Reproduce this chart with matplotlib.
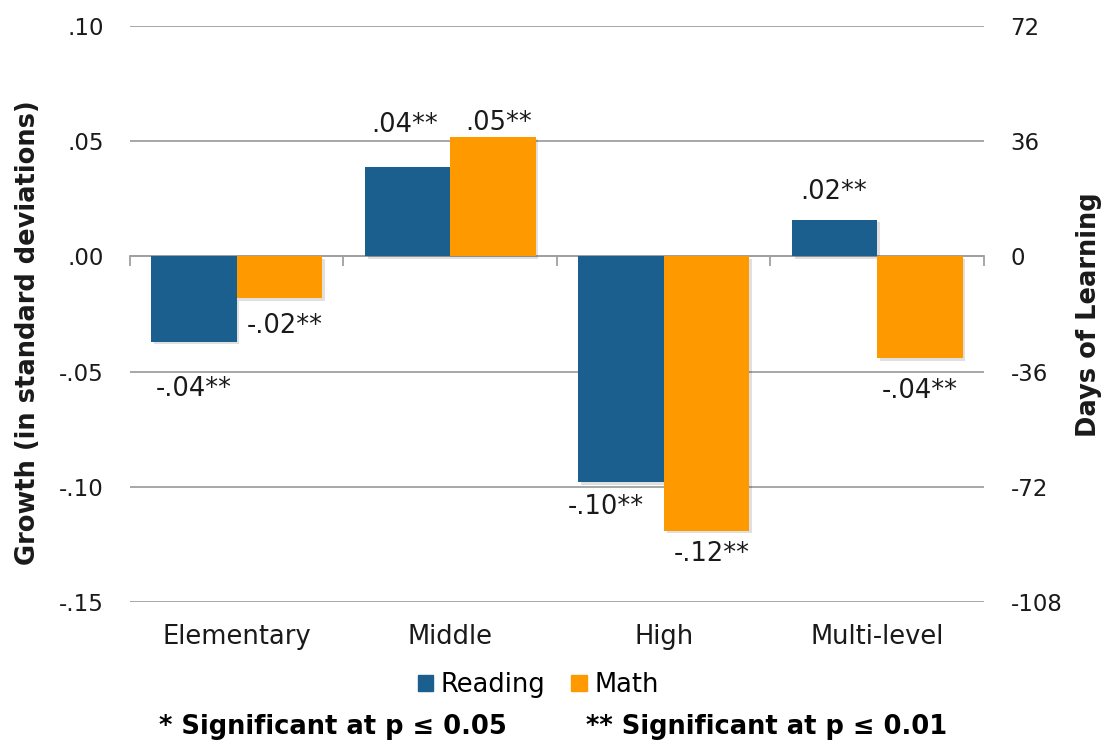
import matplotlib.pyplot as plt
import matplotlib.patheffects as pe
from matplotlib.patches import Patch

# data
categories = ["Elementary", "Middle", "High", "Multi-level"]
reading = [-0.037, 0.039, -0.098, 0.016]
math = [-0.018, 0.052, -0.119, -0.044]
reading_labels = ["-.04**", ".04**", "-.10**", ".02**"]
math_labels = ["-.02**", ".05**", "-.12**", "-.04**"]
left_ticks = [-0.15, -0.10, -0.05, 0.00, 0.05, 0.10]
left_ticklabels = ["-.15", "-.10", "-.05", ".00", ".05", ".10"]
right_ticks = [-108, -72, -36, 0, 36, 72]
right_ticklabels = ["-108", "-72", "-36", "0", "36", "72"]

# label offsets in points (dx, dy) from the bar end, as hand-placed in the original
reading_offsets = [(0, -34), (-2, 30), (-11, -18), (-1, 20)]
math_offsets = [(4, -20), (4, 10), (4, -17), (0, -24)]

BLUE = "#1B5F8F"
ORANGE = "#FF9900"
GRID = "#A0A0A0"
TEXT = "#1a1a1a"

plt.rcParams["font.family"] = "DejaVu Sans"

fig = plt.figure(figsize=(11.05, 7.45), dpi=100)
ax = fig.add_axes([0.1176, 0.192, 0.7729, 0.773])

x = list(range(len(categories)))
w = 0.4
shadow = [pe.SimplePatchShadow(offset=(2, -2), alpha=0.12, shadow_rgbFace="k"), pe.Normal()]
b1 = ax.bar([i - w / 2 for i in x], reading, width=w, color=BLUE, zorder=3)
b2 = ax.bar([i + w / 2 for i in x], math, width=w, color=ORANGE, zorder=3)
for bar in list(b1) + list(b2):
    bar.set_path_effects(shadow)

for bars, labels, offs in [(b1, reading_labels, reading_offsets), (b2, math_labels, math_offsets)]:
    for bar, lab, (dx, dy) in zip(bars, labels, offs):
        h = bar.get_height()
        ax.annotate(lab, (bar.get_x() + bar.get_width() / 2, h),
                    xytext=(dx, dy), textcoords="offset points",
                    ha="center", va="center", fontsize=18.5, color=TEXT)

ax.set_xlim(-0.5, len(categories) - 0.5)
ax.set_ylim(-0.15, 0.10)
ax.set_yticks(left_ticks)
ax.set_yticklabels(left_ticklabels)
ax.tick_params(axis="y", length=0, pad=19, labelsize=16.5, labelcolor=TEXT)
ax.yaxis.grid(True, color=GRID, linewidth=1.3, zorder=0)
ax.set_axisbelow(True)

for s in ["top", "right", "left"]:
    ax.spines[s].set_visible(False)
ax.spines["bottom"].set_position(("data", 0))
ax.spines["bottom"].set_color(GRID)
ax.spines["bottom"].set_linewidth(1.3)
ax.set_xticks([i - 0.5 for i in range(len(categories) + 1)])
ax.set_xticklabels([])
ax.tick_params(axis="x", length=7, width=1.3, color=GRID, direction="out")

for i, cat in enumerate(categories):
    ax.text(i, -0.06, cat, transform=ax.get_xaxis_transform(),
            ha="center", va="center", fontsize=18.5, color=TEXT)

ax2 = ax.twinx()
ax2.set_ylim(-108, 72)
ax2.set_yticks(right_ticks)
ax2.set_yticklabels(right_ticklabels)
ax2.tick_params(axis="y", length=0, pad=19, labelsize=16.5, labelcolor=TEXT)
for s in ax2.spines.values():
    s.set_visible(False)

# axis titles
fig.text(0.025, 0.554, "Growth (in standard deviations)", rotation=90, ha="center",
         va="center", fontsize=18.5, fontweight="bold", color=TEXT)
fig.text(0.9855, 0.577, "Days of Learning", rotation=90, ha="center",
         va="center", fontsize=18.5, fontweight="bold", color=TEXT)

handles = [Patch(color=BLUE, label="Reading"), Patch(color=ORANGE, label="Math")]
fig.legend(handles=handles, loc="center", bbox_to_anchor=(0.487, 0.0805), ncol=2,
           frameon=False, fontsize=18.5, handlelength=0.6, handleheight=0.6,
           handletextpad=0.3, columnspacing=1.0)

fig.text(0.301, 0.024, "* Significant at p \u2264 0.05", ha="center", va="center",
         fontsize=18.5, fontweight="bold", color="black")
fig.text(0.694, 0.024, "** Significant at p \u2264 0.01", ha="center", va="center",
         fontsize=18.5, fontweight="bold", color="black")

fig.savefig("out.png", dpi=100)
